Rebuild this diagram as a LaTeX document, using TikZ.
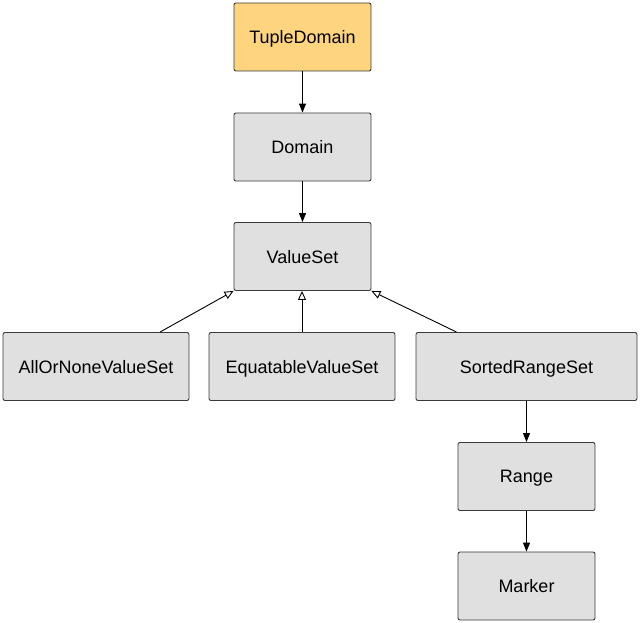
\documentclass[tikz,border=0pt]{standalone}
\usepackage{fontspec}
\setmainfont{Liberation Sans}
\usetikzlibrary{arrows.meta}
\definecolor{boxgray}{HTML}{E0E0E0}
\definecolor{boxorange}{HTML}{FFD47F}
\definecolor{edgegray}{HTML}{3A3A3A}
\begin{document}
\begin{tikzpicture}[x=1pt,y=-1pt,
  cls/.style={draw=edgegray, line width=0.9pt, fill=boxgray, rounded corners=2pt,
    minimum height=68pt, inner sep=0pt, text depth=0pt, font=\fontsize{18}{20}\selectfont, text=black},
  dep/.style={draw=black, line width=1pt, -{Triangle[length=9pt,width=7pt]}},
  inh/.style={draw=black, line width=0.9pt, -{Triangle[open,length=9pt,width=8pt,fill=white]}}]
\useasboundingbox (0,0) rectangle (640,623);
\node[cls, fill=boxorange, minimum width=137pt] (tuple) at (302.5,37) {TupleDomain};
\node[cls, minimum width=137pt] (domain) at (302.5,147) {Domain};
\node[cls, minimum width=137pt] (valueset) at (302.5,256.5) {ValueSet};
\node[cls, minimum width=186pt] (allor) at (96,366.5) {AllOrNoneValueSet};
\node[cls, minimum width=186pt] (equat) at (302,366.5) {EquatableValueSet};
\node[cls, minimum width=221pt] (sorted) at (526.5,366.5) {SortedRangeSet};
\node[cls, minimum width=137pt] (range) at (526.5,476.5) {Range};
\node[cls, minimum width=137pt] (marker) at (526.5,586) {Marker};
\draw[dep] (tuple) -- (domain);
\draw[dep] (domain) -- (valueset);
\draw[dep] (sorted) -- (range);
\draw[dep] (range) -- (marker);
\draw[inh] ([xshift=64pt]allor.north) -- (valueset.south west);
\draw[inh] (equat.north) -- (equat.north |- valueset.south);
\draw[inh] ([xshift=-70pt]sorted.north) -- (valueset.south east);
\end{tikzpicture}
\end{document}
